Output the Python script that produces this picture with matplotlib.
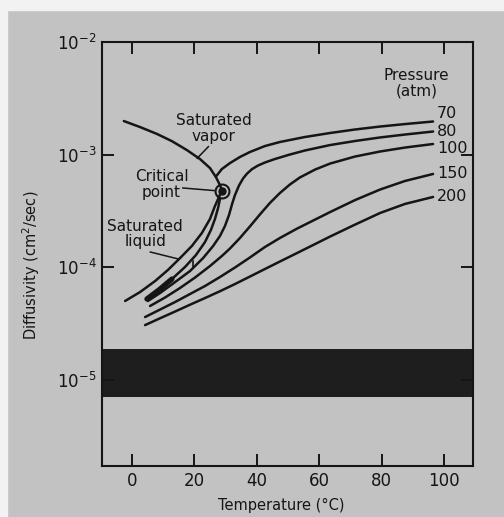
#!/usr/bin/env python3
"""
Diffusivity of CO2 against temperature along isobars, with the saturation
envelope, the critical point and the band of ordinary liquid diffusivities.
Writes out.png.
"""
import matplotlib
matplotlib.use("Agg")
import matplotlib.pyplot as plt
from matplotlib.patches import Rectangle
from matplotlib.ticker import FixedLocator, NullLocator, LogFormatterMathtext

PAGE = "#c2c2c2"
INK = "#151515"
LW = 1.8

# saturation envelope: T in degC, D in cm^2/s
sat_vap_T = [-2.6, 2.6, 8.0, 12.8, 17.6, 21.8, 25.0, 26.9, 28.2, 28.8]
sat_vap_D = [1.99e-3, 1.76e-3, 1.53e-3, 1.32e-3, 1.10e-3, 9.16e-4, 7.62e-4,
             6.34e-4, 5.38e-4, 4.86e-4]
sat_liq_T = [-2.2, 2.6, 7.4, 11.5, 15.4, 19.2, 22.4, 25.0, 26.6, 27.9, 28.8]
sat_liq_D = [5.04e-5, 6.05e-5, 7.57e-5, 9.48e-5, 1.21e-4, 1.55e-4, 2.02e-4,
             2.69e-4, 3.51e-4, 4.22e-4, 4.86e-4]
crit_T, crit_D = 28.8, 4.8e-4

# isobars
p70_vap_T = [26.9, 28.8, 31.4, 34.6, 37.8, 42.6, 47.4, 55.4, 63.5, 71.5, 79.5, 87.5, 96.5]
p70_vap_D = [6.4e-4, 7.46e-4, 8.43e-4, 9.55e-4, 1.057e-3, 1.194e-3, 1.297e-3,
             1.436e-3, 1.559e-3, 1.675e-3, 1.779e-3, 1.871e-3, 1.972e-3]
p70_liq_T = [4.8, 9.0, 12.8, 17.0, 20.5, 23.4, 25.3, 26.6, 27.6, 28.2]
p70_liq_D = [5.25e-5, 6.43e-5, 7.89e-5, 1.009e-4, 1.288e-4, 1.679e-4, 2.15e-4,
             2.69e-4, 3.37e-4, 4.05e-4]
p80_T = [5.1, 9.0, 13.8, 18.6, 22.8, 26.0, 28.2, 29.8, 31.1, 32.1, 33.0, 34.3,
         35.6, 36.9, 38.5, 40.4, 42.6, 45.8, 50.6, 55.4, 63.5, 71.5, 79.5, 87.5, 96.5]
p80_D = [5.04e-5, 5.93e-5, 7.41e-5, 9.29e-5, 1.211e-4, 1.549e-4, 1.901e-4,
         2.33e-4, 2.92e-4, 3.66e-4, 4.38e-4, 5.33e-4, 6.15e-4, 6.81e-4, 7.46e-4,
         8.02e-4, 8.53e-4, 9.16e-4, 1.004e-3, 1.090e-3, 1.219e-3, 1.324e-3,
         1.423e-3, 1.511e-3, 1.607e-3]
p100_T = [5.8, 10.6, 15.4, 20.2, 25.0, 28.8, 31.4, 34.6, 37.8, 41.0, 44.2, 47.4,
          50.6, 53.8, 58.7, 63.5, 71.5, 79.5, 87.5, 96.5]
p100_D = [4.55e-5, 5.41e-5, 6.57e-5, 8.13e-5, 1.029e-4, 1.262e-4, 1.472e-4,
          1.824e-4, 2.31e-4, 2.95e-4, 3.73e-4, 4.57e-4, 5.44e-4, 6.28e-4,
          7.39e-4, 8.35e-4, 9.64e-4, 1.068e-3, 1.158e-3, 1.245e-3]
p150_T = [4.2, 9.0, 13.8, 18.6, 23.4, 28.2, 33.0, 37.8, 42.6, 47.4, 52.9, 58.7,
          63.5, 71.5, 79.5, 87.5, 96.5]
p150_D = [3.63e-5, 4.23e-5, 4.93e-5, 5.81e-5, 6.84e-5, 8.22e-5, 9.98e-5,
          1.225e-4, 1.517e-4, 1.824e-4, 2.21e-4, 2.66e-4, 3.10e-4, 3.96e-4,
          4.91e-4, 5.85e-4, 6.75e-4]
p200_T = [4.2, 9.0, 13.8, 18.6, 23.4, 28.2, 33.0, 37.8, 42.6, 47.4, 52.9, 58.7,
          63.5, 71.5, 79.5, 87.5, 96.5]
p200_D = [3.08e-5, 3.54e-5, 4.06e-5, 4.67e-5, 5.35e-5, 6.15e-5, 7.12e-5,
          8.30e-5, 9.68e-5, 1.128e-4, 1.342e-4, 1.613e-4, 1.880e-4, 2.40e-4,
          3.04e-4, 3.66e-4, 4.22e-4]

pressures = ["70", "80", "100", "150", "200"]
pressure_label_T = 97.8
pressure_label_D = [2.33e-3, 1.62e-3, 1.14e-3, 6.84e-4, 4.24e-4]

# typical diffusivities in ordinary liquids
liquid_D_low, liquid_D_high = 7.1e-6, 1.89e-5

x_ticks = [0, 20, 40, 60, 80, 100]
y_ticks = [1e-5, 1e-4, 1e-3, 1e-2]


def curve(ax, T, D, lw=LW):
    ax.plot(T, D, color=INK, lw=lw, solid_capstyle="round",
            solid_joinstyle="round", zorder=3)


def main():
    fig = plt.figure(figsize=(5.04, 5.17), dpi=100, facecolor=PAGE)
    # pale strip of the page margin along the top and left edges
    fig.patches.append(Rectangle((0, 0.981), 1, 0.019, transform=fig.transFigure,
                                 color="#f2f2f2", zorder=0))
    fig.patches.append(Rectangle((0, 0), 0.014, 1, transform=fig.transFigure,
                                 color="#f2f2f2", zorder=0))

    ax = fig.add_axes([0.2024, 0.0986, 0.7361, 0.8201], facecolor=PAGE)
    ax.set_yscale("log")
    ax.set_xlim(-9.6, 109.3)
    ax.set_ylim(1.73e-6, 1e-2)

    ax.axhspan(liquid_D_low, liquid_D_high, color="#1e1e1e", lw=0, zorder=1)

    curve(ax, sat_vap_T, sat_vap_D)
    curve(ax, sat_liq_T, sat_liq_D)
    curve(ax, p70_vap_T, p70_vap_D)
    curve(ax, p70_liq_T, p70_liq_D)
    curve(ax, p70_liq_T[:3], p70_liq_D[:3], lw=3.8)
    for T, D in [(p80_T, p80_D), (p100_T, p100_D), (p150_T, p150_D), (p200_T, p200_D)]:
        curve(ax, T, D)
    # small bracket between the 70 atm liquid branch and the 80 atm isobar
    ax.plot([19.6, 19.6], [1.15e-4, 9.9e-5], color=INK, lw=1.2, zorder=3)

    ax.plot(crit_T, crit_D, "o", ms=10, mfc="none", mec=INK, mew=1.5, zorder=4)
    ax.plot(crit_T, crit_D, "o", ms=5, color=INK, zorder=4)

    txt = dict(color=INK, fontsize=11, ha="center", va="center", linespacing=1.05)
    ax.text(26.1, 1.71e-3, "Saturated\nvapor", **txt)
    ax.plot([24.5, 20.9], [1.18e-3, 9.3e-4], color=INK, lw=1.1)
    ax.text(9.5, 5.45e-4, "Critical\npoint", **txt)
    ax.plot([16.3, 26.3], [5.07e-4, 4.81e-4], color=INK, lw=1.1)
    ax.text(4.2, 1.98e-4, "Saturated\nliquid", **txt)
    ax.plot([5.9, 14.8], [1.37e-4, 1.19e-4], color=INK, lw=1.1)
    ax.text(91.2, 4.28e-3, "Pressure\n(atm)", **txt)
    for lab, d in zip(pressures, pressure_label_D):
        ax.text(pressure_label_T, d, lab, color=INK, fontsize=11.5,
                ha="left", va="center")

    ax.xaxis.set_major_locator(FixedLocator(x_ticks))
    ax.yaxis.set_major_locator(FixedLocator(y_ticks))
    ax.yaxis.set_major_formatter(LogFormatterMathtext())
    ax.yaxis.set_minor_locator(NullLocator())
    ax.tick_params(which="major", direction="in", length=8.5, width=1.4,
                   color=INK, labelcolor=INK, labelsize=12,
                   top=True, right=True)
    ax.tick_params(axis="x", pad=4)
    ax.tick_params(axis="y", pad=4)
    for s in ax.spines.values():
        s.set_linewidth(1.5)
        s.set_color(INK)

    ax.set_xlabel("Temperature (°C)", fontsize=10.5, color=INK)
    ax.xaxis.set_label_coords(0.482, -0.076)
    ax.set_ylabel("Diffusivity (cm$^2$/sec)", fontsize=10.5, color=INK)
    ax.yaxis.set_label_coords(-0.162, 0.474)

    fig.savefig("out.png", dpi=100, facecolor=PAGE)


if __name__ == "__main__":
    main()
